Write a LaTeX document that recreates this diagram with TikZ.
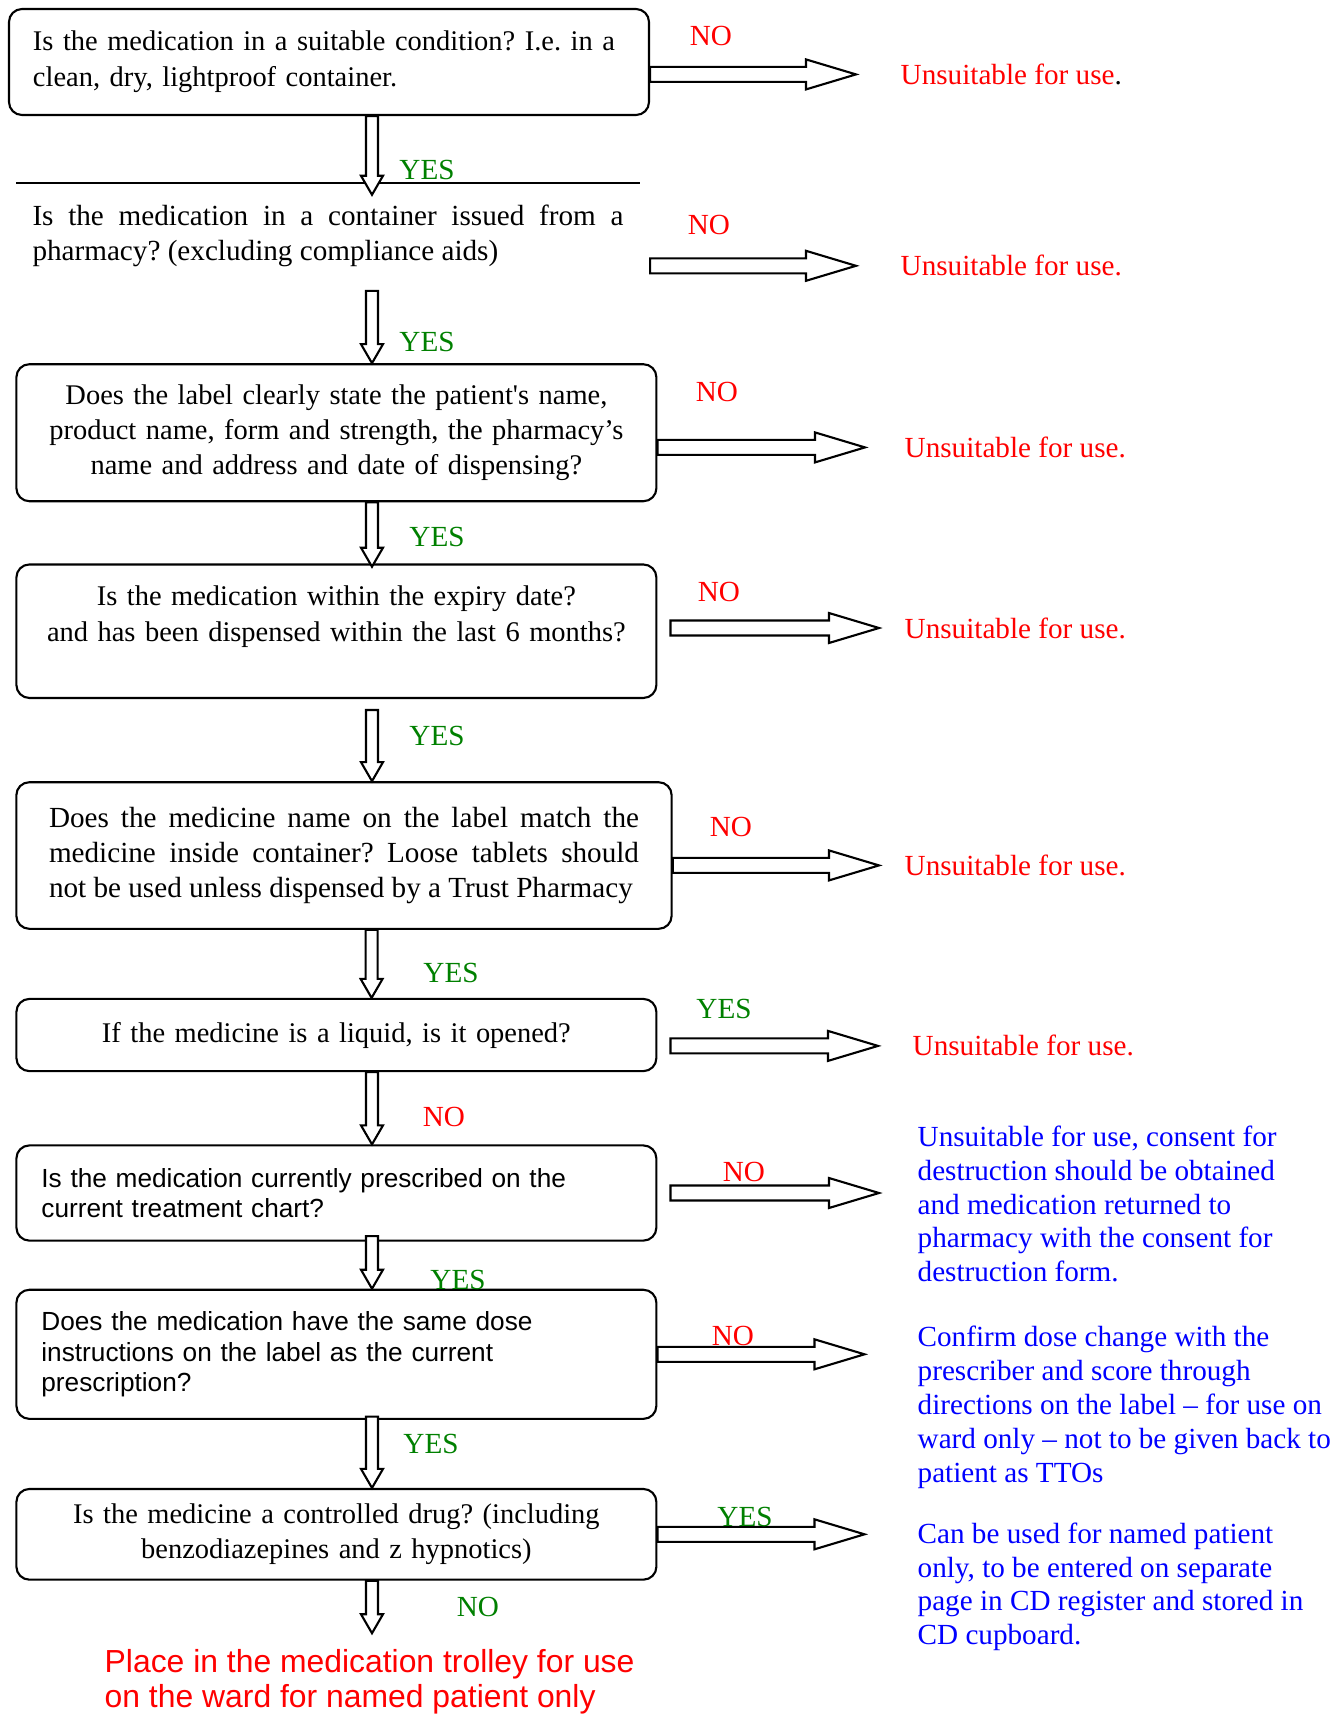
\documentclass[tikz,border=0pt]{standalone}
\usepackage{fontspec}
\setmainfont{Liberation Serif}
\setsansfont{Liberation Sans}
\usetikzlibrary{calc}
\definecolor{yesgreen}{RGB}{0,128,0}
\frenchspacing

\tikzset{
  qbox/.style={draw, line width=0.6pt, rounded corners=0.13cm, inner xsep=0.2cm, inner ysep=0pt, text width=6cm, align=center, font=\fontsize{8.1}{10}\selectfont},
  sansbox/.style={qbox, align=left, text width=5.9cm, inner xsep=0.25cm, font=\sffamily\fontsize{7.46}{8.7}\selectfont},
  yes/.style={text=yesgreen, inner sep=0pt},
  no/.style={text=red, inner sep=0pt},
  outcome/.style={anchor=west, inner sep=0pt, text=red},
  advice/.style={anchor=west, inner sep=0pt, text=blue, align=left, font=\fontsize{8.3}{9.65}\selectfont},
  fatarrow/.style={draw, fill=white, line width=0.6pt, line join=miter},
}

% hollow block arrows, horizontal and downwards
\newcommand{\harrow}[2]{%
  \path[fatarrow] let \p1=(#1), \p2=(#2) in
    (\x1,\y1-0.075cm) -- (\x2-0.5cm,\y1-0.075cm) -- (\x2-0.5cm,\y1-0.15cm) -- (\x2,\y1)
    -- (\x2-0.5cm,\y1+0.15cm) -- (\x2-0.5cm,\y1+0.075cm) -- (\x1,\y1+0.075cm) -- cycle;}
\newcommand{\varrow}[2]{%
  \path[fatarrow] let \p1=(#1), \p2=(#2) in
    (\x1-0.06cm,\y1) -- (\x1-0.06cm,\y2+0.19cm) -- (\x1-0.11cm,\y2+0.19cm) -- (\x1,\y2)
    -- (\x1+0.11cm,\y2+0.19cm) -- (\x1+0.06cm,\y2+0.19cm) -- (\x1+0.06cm,\y1) -- cycle;}

\begin{document}
\begin{tikzpicture}[font=\fontsize{8.3}{10}\selectfont]
\useasboundingbox (0,0) rectangle (13.38,-17.16);

% questions
\node[qbox, align=left, text width=5.92cm, inner xsep=0.24cm, minimum height=1.06cm, font=\fontsize{8.1}{10.2}\selectfont] (q1) at (3.29,-0.62)
  {Is the medication in a suitable condition? I.e. in a\\clean, dry, lightproof container.};
\draw[line width=0.6pt] (0.164,-1.827) -- (6.40,-1.827);
\node[inner sep=0pt, text width=5.91cm, align=justify] (t2) at (3.28,-2.36)
  {Is the medication in a container issued from a\linebreak pharmacy? (excluding compliance aids)};
\node[qbox, minimum height=1.37cm] (q3) at (3.364,-4.327)
  {Does the label clearly state the patient\textquotesingle s name,\\product name, form and strength, the pharmacy’s\\name and address and date of dispensing?};
\node[qbox, minimum height=1.335cm] (q4) at (3.364,-6.312)
  {Is the medication within the expiry date?\\and has been dispensed within the last 6 months?\\~};
\node[qbox, align=justify, text width=5.9cm, inner xsep=0.3265cm, minimum height=1.466cm, font=\fontsize{8.3}{10}\selectfont] (q5) at (3.44,-8.555)
  {Does the medicine name on the label match the\linebreak medicine inside container? Loose tablets should\linebreak not be used unless dispensed by a Trust Pharmacy};
\node[qbox, minimum height=0.722cm] (q6) at (3.364,-10.35)
  {If the medicine is a liquid, is it opened?};
\node[sansbox, minimum height=0.952cm] (q7) at (3.364,-11.93)
  {Is the medication currently prescribed on the\\current treatment chart?};
\node[sansbox, minimum height=1.291cm] (q8) at (3.364,-13.543)
  {Does the medication have the same dose\\instructions on the label as the current\\prescription?};
\node[qbox, minimum height=0.907cm] (q9) at (3.364,-15.343)
  {Is the medicine a controlled drug? (including\\benzodiazepines and z hypnotics)};
\node[anchor=west, inner sep=0pt, align=left, text=red, font=\sffamily\fontsize{9.07}{9.96}\selectfont] (end) at (1.04,-16.815)
  {Place in the medication trolley for use\\on the ward for named patient only};

% outcomes
\node[outcome] (o1) at (9.00,-0.744) {Unsuitable for use\textcolor{black}{.}};
\node[outcome] (o2) at (9.00,-2.658) {Unsuitable for use.};
\node[outcome] (o3) at (9.04,-4.474) {Unsuitable for use.};
\node[outcome] (o4) at (9.04,-6.28) {Unsuitable for use.};
\node[outcome] (o5) at (9.04,-8.654) {Unsuitable for use.};
\node[outcome] (o6) at (9.12,-10.459) {Unsuitable for use.};
\node[advice] (b7) at (9.17,-12.04) {Unsuitable for use, consent for\\destruction should be obtained\\and medication returned to\\pharmacy with the consent for\\destruction form.};
\node[advice] (b8) at (9.17,-14.07) {Confirm dose change with the\\prescriber and score through\\directions on the label -- for use on\\ward only -- not to be given back to\\patient as TTOs};
\node[advice] (b9) at (9.17,-15.868) {Can be used for named patient\\only, to be entered on separate\\page in CD register and stored in\\CD cupboard.};

% arrows to the right
\harrow{q1.east |- o1.west}{$(o1.west)+(-0.44,0)$}
\harrow{q1.east |- o2.west}{$(o2.west)+(-0.44,0)$}
\harrow{q3.east |- o3.west}{$(o3.west)+(-0.39,0)$}
\harrow{$(q4.east |- o4.west)+(0.13,0)$}{$(o4.west)+(-0.25,0)$}
\harrow{q5.east |- o5.west}{$(o5.west)+(-0.25,0)$}
\harrow{$(q6.east |- o6.west)+(0.13,0)$}{$(o6.west)+(-0.34,0)$}
\harrow{$(q7.east)+(0.13,0)$}{$(b7.west |- q7.east)+(-0.38,0)$}
\harrow{q8.east}{$(b8.west |- q8.east)+(-0.525,0)$}
\harrow{q9.east}{$(b9.west |- q9.east)+(-0.525,0)$}

% arrows down
\varrow{$(q1.south)+(0.43,0)$}{$(q1.south)+(0.43,-0.787)$}
\varrow{$(q3.north)+(0.356,0.723)$}{$(q3.north)+(0.356,0)$}
\varrow{$(q3.south)+(0.356,0)$}{$(q4.north)+(0,-0.033)$}
\varrow{$(q4.south)+(0.356,-0.11)$}{q5.north}
\varrow{$(q5.south)+(0.276,0)$}{q6.north}
\varrow{$(q6.south)+(0.356,0)$}{q7.north}
\varrow{$(q7.south)+(0.356,0.056)$}{q8.north}
\varrow{$(q8.south)+(0.356,0.033)$}{q9.north}
\varrow{$(q9.south)+(0.356,0)$}{$(q9.south)+(0.356,-0.525)$}

% yes / no labels
\node[no] (n1) at (7.11,-0.36) {NO};
\node[yes] (y1) at (4.27,-1.70) {YES};
\node[no] (n2) at (7.09,-2.25) {NO};
\node[yes] (y2) at (4.27,-3.42) {YES};
\node[no] (n3) at (7.17,-3.92) {NO};
\node[yes] (y3) at (4.37,-5.37) {YES};
\node[no] (n4) at (7.19,-5.92) {NO};
\node[yes] (y4) at (4.37,-7.36) {YES};
\node[no] (n5) at (7.31,-8.27) {NO};
\node[yes] (y5) at (4.51,-9.73) {YES};
\node[yes] (y6) at (7.24,-10.09) {YES};
\node[no] (n6) at (4.44,-11.17) {NO};
\node[no] (n7) at (7.44,-11.72) {NO};
\node[yes] (y7) at (4.58,-12.80) {YES};
\node[no] (n8) at (7.33,-13.36) {NO};
\node[yes] (y8) at (4.31,-14.44) {YES};
\node[yes] (y9) at (7.45,-15.17) {YES};
\node[yes] (n9) at (4.78,-16.07) {NO};
\end{tikzpicture}
\end{document}
